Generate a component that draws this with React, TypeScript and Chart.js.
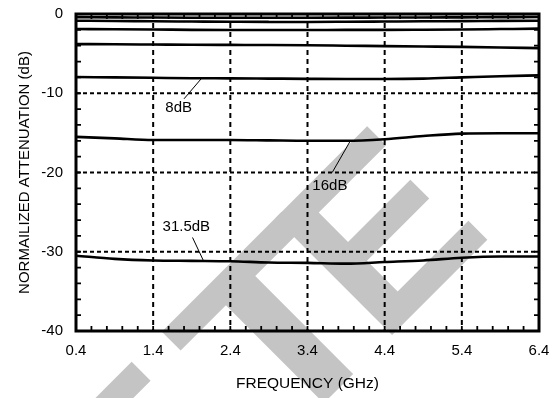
import React, { useEffect, useRef } from 'react';
import { Chart, registerables } from 'chart.js';

Chart.register(...registerables);

// ---------- data ----------
const FREQ_GHZ = [0.4, 0.9, 1.4, 1.9, 2.4, 2.9, 3.4, 3.9, 4.4, 4.9, 5.4, 5.9, 6.4];

const ATT_0P5 = [-0.4, -0.42, -0.45, -0.47, -0.48, -0.48, -0.47, -0.46, -0.45, -0.44, -0.42, -0.4, -0.38];
const ATT_1 = [-0.85, -0.88, -0.92, -0.95, -0.98, -1.0, -1.0, -0.98, -0.95, -0.92, -0.9, -0.87, -0.85];
const ATT_2 = [-1.9, -1.92, -1.95, -2.0, -2.02, -2.02, -2.02, -2.0, -2.0, -1.98, -1.95, -1.9, -1.85];
const ATT_4 = [-3.8, -3.82, -3.85, -3.88, -3.9, -3.92, -3.95, -4.0, -4.05, -4.1, -4.15, -4.22, -4.3];
const ATT_8 = [-7.95, -8.0, -8.05, -8.1, -8.12, -8.15, -8.18, -8.2, -8.2, -8.15, -8.0, -7.85, -7.75];
const ATT_16 = [-15.5, -15.7, -15.9, -15.9, -15.9, -15.95, -16.0, -16.0, -15.8, -15.4, -15.1, -15.05, -15.05];
const ATT_31P5 = [-30.5, -30.9, -31.1, -31.15, -31.2, -31.35, -31.4, -31.5, -31.3, -31.1, -30.75, -30.6, -30.6];

const SERIES_NAMES = ['0.5dB', '1dB', '2dB', '4dB', '8dB', '16dB', '31.5dB'];
const SERIES_VALUES = [ATT_0P5, ATT_1, ATT_2, ATT_4, ATT_8, ATT_16, ATT_31P5];

const X_TICKS = [0.4, 1.4, 2.4, 3.4, 4.4, 5.4, 6.4];
const Y_TICKS = [-40, -30, -20, -10, 0];
const X_MIN = 0.4;
const X_MAX = 6.4;
const Y_MIN = -40;
const Y_MAX = 0;
const X_MINOR_STEP = 0.2;
const Y_MINOR_STEP = 2;

const X_TITLE = 'FREQUENCY (GHz)';
const Y_TITLE = 'NORMAILIZED ATTENUATION (dB)';

// callouts (data units)
const CALLOUT_TEXT = ['8dB', '16dB', '31.5dB'];
const CALLOUT_TEXT_AT = [[1.73, -11.8], [3.69, -21.7], [1.83, -26.9]];
const CALLOUT_LINE_FROM = [[1.80, -10.7], [3.72, -20.0], [1.91, -28.2]];
const CALLOUT_LINE_TO = [[2.02, -8.2], [3.95, -16.1], [2.05, -31.1]];

const WATERMARK_HEAD = 'OBSOLE';
const WATERMARK_T = 'T';
const WATERMARK_E = 'E';

// ---------- styles ----------
const FONT_FAMILY = '"Liberation Sans", Arial, Helvetica, sans-serif';
const WATERMARK_COLOR = '#c4c4c4';

const chartPlugin = {
  id: 'decor',
  beforeDraw(chart: any) {
    const { ctx, width, height } = chart;
    ctx.save();
    ctx.fillStyle = '#ffffff';
    ctx.fillRect(0, 0, width, height);
    ctx.translate(494, 233);
    ctx.rotate(-Math.PI / 4);
    ctx.font = `bold 240px ${FONT_FAMILY}`;
    ctx.fillStyle = WATERMARK_COLOR;
    ctx.textBaseline = 'alphabetic';
    ctx.textAlign = 'right';
    ctx.fillText(WATERMARK_E, 0, 0);
    ctx.save();
    ctx.translate(-220, 0);
    ctx.scale(1.2, 1);
    ctx.textAlign = 'center';
    ctx.fillText(WATERMARK_T, 0, 0);
    ctx.restore();
    ctx.textAlign = 'right';
    ctx.fillText(WATERMARK_HEAD, -333, 0);
    ctx.restore();
  },
  beforeDatasetsDraw(chart: any) {
    const { ctx, chartArea } = chart;
    const xs = chart.scales.x;
    const ys = chart.scales.y;
    ctx.save();
    ctx.strokeStyle = '#000';
    ctx.lineWidth = 2;
    ctx.setLineDash([5, 4]);
    X_TICKS.forEach((v) => {
      if (v <= X_MIN || v >= X_MAX) return;
      const px = xs.getPixelForValue(v);
      ctx.beginPath();
      ctx.moveTo(px, chartArea.top);
      ctx.lineTo(px, chartArea.bottom);
      ctx.stroke();
    });
    ctx.setLineDash([4, 3]);
    ctx.lineWidth = 1.8;
    Y_TICKS.forEach((v) => {
      if (v <= Y_MIN || v >= Y_MAX) return;
      const py = ys.getPixelForValue(v);
      ctx.beginPath();
      ctx.moveTo(chartArea.left, py);
      ctx.lineTo(chartArea.right, py);
      ctx.stroke();
    });
    ctx.restore();
  },
  afterDatasetsDraw(chart: any) {
    const { ctx, chartArea } = chart;
    const xs = chart.scales.x;
    const ys = chart.scales.y;
    const { left, right, top, bottom } = chartArea;
    ctx.save();
    ctx.setLineDash([]);
    ctx.strokeStyle = '#000';
    // minor ticks
    ctx.lineWidth = 1.8;
    const tl = 5;
    for (let v = X_MIN + X_MINOR_STEP; v < X_MAX - 1e-6; v += X_MINOR_STEP) {
      const px = xs.getPixelForValue(v);
      ctx.beginPath();
      ctx.moveTo(px, bottom);
      ctx.lineTo(px, bottom - tl);
      ctx.moveTo(px, top);
      ctx.lineTo(px, top + tl);
      ctx.stroke();
    }
    for (let v = Y_MIN + Y_MINOR_STEP; v < Y_MAX - 1e-6; v += Y_MINOR_STEP) {
      const py = ys.getPixelForValue(v);
      ctx.beginPath();
      ctx.moveTo(left, py);
      ctx.lineTo(left + tl, py);
      ctx.moveTo(right, py);
      ctx.lineTo(right - tl, py);
      ctx.stroke();
    }
    // frame
    ctx.lineWidth = 3;
    ctx.strokeRect(left, top, right - left, bottom - top);
    // callouts
    ctx.lineWidth = 1;
    CALLOUT_LINE_FROM.forEach((from, i) => {
      const to = CALLOUT_LINE_TO[i];
      ctx.beginPath();
      ctx.moveTo(xs.getPixelForValue(from[0]), ys.getPixelForValue(from[1]));
      ctx.lineTo(xs.getPixelForValue(to[0]), ys.getPixelForValue(to[1]));
      ctx.stroke();
    });
    ctx.fillStyle = '#000';
    ctx.font = `15px ${FONT_FAMILY}`;
    ctx.textAlign = 'center';
    ctx.textBaseline = 'middle';
    CALLOUT_TEXT.forEach((t, i) => {
      const at = CALLOUT_TEXT_AT[i];
      ctx.fillText(t, xs.getPixelForValue(at[0]), ys.getPixelForValue(at[1]));
    });
    ctx.restore();
  },
};

export default function App() {
  const canvasRef = useRef<HTMLCanvasElement | null>(null);

  useEffect(() => {
    const canvas = canvasRef.current;
    if (!canvas) return;
    const datasets = SERIES_NAMES.map((name, i) => ({
      label: name,
      data: FREQ_GHZ.map((f, j) => ({ x: f, y: SERIES_VALUES[i][j] })),
      borderColor: '#000',
      borderWidth: 2.6,
      pointRadius: 0,
      tension: 0.4,
      cubicInterpolationMode: 'monotone' as const,
      fill: false,
    }));

    const chart = new Chart(canvas, {
      type: 'line',
      data: { datasets },
      options: {
        animation: false,
        responsive: false,
        devicePixelRatio: 1,
        events: [],
        layout: { padding: { left: 0, right: 18, top: 14, bottom: 0 } },
        plugins: {
          legend: { display: false },
          tooltip: { enabled: false },
        },
        scales: {
          x: {
            type: 'linear',
            min: X_MIN,
            max: X_MAX,
            afterBuildTicks: (s: any) => {
              s.ticks = X_TICKS.map((v) => ({ value: v }));
            },
            afterFit: (s: any) => {
              s.height = 67;
              s.paddingLeft = 0;
              s.paddingRight = 0;
            },
            grid: { display: false, drawTicks: false },
            border: { display: false },
            ticks: {
              autoSkip: false,
              maxRotation: 0,
              padding: 11,
              color: '#000',
              font: { family: FONT_FAMILY, size: 15 },
              callback: (v: any) => Number(v).toFixed(1),
            },
            title: {
              display: true,
              text: X_TITLE,
              color: '#000',
              font: { family: FONT_FAMILY, size: 15.5 },
              padding: { top: 0, bottom: 5 },
            },
          },
          y: {
            type: 'linear',
            min: Y_MIN,
            max: Y_MAX,
            afterBuildTicks: (s: any) => {
              s.ticks = Y_TICKS.map((v) => ({ value: v }));
            },
            afterFit: (s: any) => {
              s.width = 76;
              s.paddingTop = 0;
              s.paddingBottom = 0;
            },
            grid: { display: false, drawTicks: false },
            border: { display: false },
            ticks: {
              padding: 13,
              color: '#000',
              font: { family: FONT_FAMILY, size: 15 },
              callback: (v: any) => String(v),
            },
            title: {
              display: true,
              text: Y_TITLE,
              color: '#000',
              font: { family: FONT_FAMILY, size: 15 },
              padding: { top: 16, bottom: 0 },
            },
          },
        },
      },
      plugins: [chartPlugin],
    });
    return () => chart.destroy();
  }, []);

  return (
    <div style={{ position: 'fixed', left: 0, top: 0, width: 557, height: 398, background: '#fff' }}>
      <canvas ref={canvasRef} width={557} height={398} style={{ display: 'block', width: 557, height: 398 }} />
    </div>
  );
}
